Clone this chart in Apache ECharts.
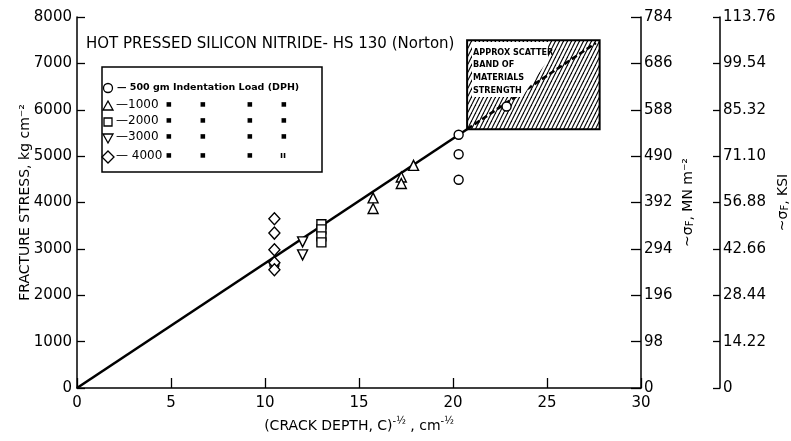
<!DOCTYPE html>
<html><head><meta charset="utf-8">
<script src="https://cdn.jsdelivr.net/npm/echarts@6.0.0/dist/echarts.min.js"></script>
<style>html,body{margin:0;padding:0;background:#fff}#c{width:791px;height:441px}</style>
</head><body><div id="c"></div>
<script>
// ---- data ----
const mnLabels  = ['0','98','196','294','392','490','588','686','784'];
const ksiLabels = ['0','14.22','28.44','42.66','56.88','71.10','85.32','99.54','113.76'];
const load500  = [[20.3,5460],[20.3,5040],[20.3,4490],[22.85,6070],[10.5,2650]];
const load1000 = [[15.75,4100],[15.75,3870],[17.25,4550],[17.25,4410],[17.9,4800]];
const load2000 = [[13,3530],[13,3420],[13,3270],[13,3140]];
const load3000 = [[12,3150],[12,2870]];
const load4000 = [[10.5,3650],[10.5,3340],[10.5,2980],[10.5,2700],[10.5,2550]];
const fitLine      = [[0,0],[20.75,5580]];
const fitExtension = [[20.75,5580],[27.6,7440]];
const bandX = [20.75,27.8];
const bandY = [5580,7500];

const FONT = 'DejaVu Sans';
const hc = document.createElement('canvas'); hc.width = 4; hc.height = 8;
const g = hc.getContext('2d');
g.fillStyle = '#fff'; g.fillRect(0,0,4,8);
g.strokeStyle = '#000'; g.lineWidth = 1.1;
for (let k=-1;k<=1;k++){ g.beginPath(); g.moveTo(k*4,8); g.lineTo(k*4+4,0); g.stroke(); }

const chart = echarts.init(document.getElementById('c'), null, {renderer:'canvas'});
const axisCommon = {
  nameMoveOverlap:false,
  axisLine:{show:true,lineStyle:{color:'#000',width:1.5}},
  axisTick:{show:true,inside:true,lineStyle:{color:'#000',width:1.3}},
  splitLine:{show:false},
  axisLabel:{color:'#000',fontFamily:FONT,fontSize:15}
};
const mk = (name,data,symbol,size,rot)=>({
  type:'scatter',name,data,symbol,symbolSize:size,symbolRotate:rot||0,z:5,
  itemStyle:{color:'#fff',borderColor:'#000',borderWidth:1.4,opacity:1}
});
const sub = {sub:{fontSize:10,fontFamily:FONT,color:'#000',verticalAlign:'bottom'}};
const sup = {fontSize:10,fontFamily:FONT,color:'#000',verticalAlign:'top'};

chart.setOption({
  backgroundColor:'#fff',
  animation:false,
  grid:{left:77,right:150,top:17,bottom:53,containLabel:false,outerBoundsMode:'none'},
  xAxis:{type:'value',min:0,max:30,interval:5,...axisCommon,
    axisTick:{...axisCommon.axisTick,length:10},
    axisLabel:{...axisCommon.axisLabel,margin:8,formatter:v=>String(v)},
    name:'(CRACK DEPTH, C){s|-½} , cm{s|-½}',nameLocation:'middle',nameGap:28,
    nameTextStyle:{color:'#000',fontFamily:FONT,fontSize:14,lineHeight:20,rich:{s:sup}}
  },
  yAxis:[
    {type:'value',min:0,max:8000,interval:1000,position:'left',...axisCommon,
      axisTick:{...axisCommon.axisTick,length:8},
      axisLabel:{...axisCommon.axisLabel,margin:5,formatter:v=>String(v)},
      name:'FRACTURE STRESS, kg cm⁻²',nameLocation:'middle',nameGap:45,
      nameTextStyle:{color:'#000',fontFamily:FONT,fontSize:14}},
    {type:'value',min:0,max:8000,interval:1000,position:'right',offset:0,...axisCommon,
      axisTick:{...axisCommon.axisTick,length:10},
      axisLabel:{...axisCommon.axisLabel,margin:3,formatter:v=>mnLabels[Math.round(v/1000)]},
      name:'~σ{sub|F}, MN m⁻²',nameLocation:'middle',nameGap:40,
      nameTextStyle:{color:'#000',fontFamily:FONT,fontSize:14,rich:sub}},
    {type:'value',min:0,max:8000,interval:1000,position:'right',offset:79,...axisCommon,
      axisTick:{...axisCommon.axisTick,length:7},
      axisLabel:{...axisCommon.axisLabel,margin:3,formatter:v=>ksiLabels[Math.round(v/1000)]},
      name:'~σ{sub|F}, KSI',nameLocation:'middle',nameGap:56,
      nameTextStyle:{color:'#000',fontFamily:FONT,fontSize:14,rich:sub}}
  ],
  series:[
    {type:'line',data:fitLine,symbol:'none',z:3,lineStyle:{color:'#000',width:2.6}},
    {type:'line',data:fitExtension,symbol:'none',z:4,lineStyle:{color:'#000',width:2.6,type:[6,3]},
      markArea:{silent:true,z:1,
        itemStyle:{color:{image:hc,repeat:'repeat'},borderColor:'#000',borderWidth:2,opacity:1},
        data:[[{coord:[bandX[0],bandY[0]]},{coord:[bandX[1],bandY[1]]}]]}},
    mk('500',load500,'circle',9),
    mk('1000',load1000,'triangle',10),
    mk('2000',load2000,'rect',9),
    mk('3000',load3000,'triangle',10,180),
    mk('4000',load4000,'diamond',[11,12])
  ],
  graphic:[
    {type:'text',left:86,top:37,z:100,style:{text:'HOT PRESSED SILICON NITRIDE- HS 130 (Norton)',font:'15px "DejaVu Sans"',fill:'#000'}},
    {type:'rect',z:100,shape:{x:102,y:67,width:220,height:105},style:{fill:'none',stroke:'#000',lineWidth:1.5}},
    {type:'circle',z:100,shape:{cx:108,cy:88,r:4.5},style:{fill:'#fff',stroke:'#000',lineWidth:1.3}},
    {type:'polygon',z:100,shape:{points:[[108,101],[113,110],[103,110]]},style:{fill:'#fff',stroke:'#000',lineWidth:1.3}},
    {type:'rect',z:100,shape:{x:104,y:118,width:8,height:8},style:{fill:'#fff',stroke:'#000',lineWidth:1.3}},
    {type:'polygon',z:100,shape:{points:[[103,134],[113,134],[108,143]]},style:{fill:'#fff',stroke:'#000',lineWidth:1.3}},
    {type:'polygon',z:100,shape:{points:[[108,151],[114,157],[108,163],[102,157]]},style:{fill:'#fff',stroke:'#000',lineWidth:1.3}},
    {type:'text',z:100,left:117,top:83,style:{text:'— 500 gm Indentation Load (DPH)',font:'bold 9.5px "DejaVu Sans"',fill:'#000'}},
    {type:'text',z:100,left:116,top:99,style:{text:'—1000',font:'12px "DejaVu Sans"',fill:'#000'}},
    {type:'text',z:100,left:116,top:115,style:{text:'—2000',font:'12px "DejaVu Sans"',fill:'#000'}},
    {type:'text',z:100,left:116,top:131,style:{text:'—3000',font:'12px "DejaVu Sans"',fill:'#000'}},
    {type:'text',z:100,left:116,top:150,style:{text:'— 4000',font:'12px "DejaVu Sans"',fill:'#000'}},
    ...[106,122,138,157].flatMap((y,i)=>[166,200,247,281].map((x,j)=>(i===3&&j===3)
       ? {type:'text',z:100,left:x-1,top:y-6,style:{text:'ıı',font:'bold 9px "DejaVu Sans"',fill:'#000'}}
       : {type:'text',z:100,left:x,top:y-5,style:{text:'■',font:'6px "DejaVu Sans"',fill:'#000'}})),
    {type:'polygon',z:90,shape:{points:[[472,42],[548,42],[548,60],[522,97],[472,97]]},style:{fill:'#fff'}},
    {type:'text',z:100,left:473,top:48,style:{text:'APPROX SCATTER',font:'bold 9px "DejaVu Sans Condensed", "DejaVu Sans"',fill:'#000'}},
    {type:'text',z:100,left:473,top:60,style:{text:'BAND OF',font:'bold 9px "DejaVu Sans Condensed", "DejaVu Sans"',fill:'#000'}},
    {type:'text',z:100,left:473,top:73,style:{text:'MATERIALS',font:'bold 9px "DejaVu Sans Condensed", "DejaVu Sans"',fill:'#000'}},
    {type:'text',z:100,left:473,top:86,style:{text:'STRENGTH',font:'bold 9px "DejaVu Sans Condensed", "DejaVu Sans"',fill:'#000'}}
  ]
});
</script></body></html>
